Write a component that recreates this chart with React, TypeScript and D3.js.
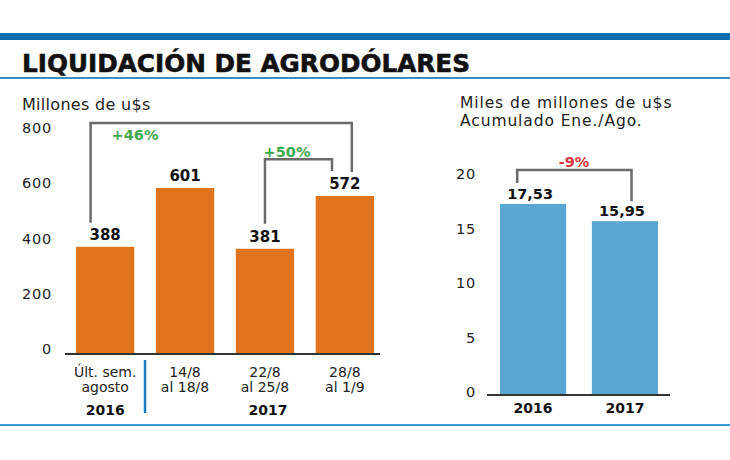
import React from 'react';
import * as d3 from 'd3';

// weekly settlements, millions of US$
const weekLabels = [['Últ. sem.', 'agosto'], ['14/8', 'al 18/8'], ['22/8', 'al 25/8'], ['28/8', 'al 1/9']];
const weekValues = [388, 601, 381, 572];
const weekTicks = [0, 200, 400, 600, 800];

// accumulated Jan/Aug, thousands of millions of US$
const yearLabels = ['2016', '2017'];
const yearValues = [17.53, 15.95];
const yearTicks = [0, 5, 10, 15, 20];

const ORANGE = '#e0731d';
const BLUE = '#5ba7d4';
const GRAY = '#6b6b6b';
const FONT = '"DejaVu Sans", sans-serif';

const fmt = (v: number) => v.toFixed(2).replace('.', ',');

export default function App() {
  const xw = d3.scaleBand<number>().domain(d3.range(weekValues.length)).range([76, 374]).paddingInner(0.27);
  const yw = d3.scaleLinear().domain([0, 800]).range([354, 133]);
  const xy = d3.scaleBand<number>().domain(d3.range(yearValues.length)).range([500, 658]).paddingInner(0.28);
  const yy = d3.scaleLinear().domain([0, 20]).range([395, 177]);
  const bw = xw.bandwidth();
  const by = xy.bandwidth();

  // bracket geometry
  const b46 = { x1: xw(0)! + bw * 0.25, x2: xw(3)! + bw * 0.62, top: yw(800) - 10, y1: yw(weekValues[0]) - 24, y2: yw(weekValues[3]) - 24 };
  const b50 = { x1: xw(2)! + bw * 0.5, x2: xw(3)! + bw * 0.28, top: yw(600) - 29, y1: yw(weekValues[2]) - 25, y2: yw(weekValues[3]) - 25 };
  const b9 = { x1: xy(0)! + by * 0.26, x2: xy(1)! + by * 0.6, top: yy(20) - 7, y1: yy(20) + 6, y2: yy(yearValues[1]) - 20 };
  const bracket = (b: typeof b46) => `M${b.x1},${b.y1}V${b.top}H${b.x2}V${b.y2}`;

  return (
    <svg width={730} height={460} style={{ position: 'absolute', left: 0, top: 0, background: '#fff' }} fontFamily={FONT}>
      <rect x={0} y={33} width={730} height={7} fill="#0c6fae" />
      <text x={22} y={72} fontSize={25} fontWeight={900} fill="#111" stroke="#111" strokeWidth={0.6}
        textLength={448} lengthAdjust="spacingAndGlyphs">
        LIQUIDACIÓN DE AGRODÓLARES
      </text>
      <rect x={0} y={77} width={730} height={2} fill="#3b8ec4" />

      {/* left panel */}
      <text x={22} y={110} fontSize={16} fill="#222" letterSpacing={0.3}>Millones de u$s</text>
      {weekTicks.map(t => (
        <text key={t} x={52} y={yw(t)} fontSize={14.5} textAnchor="end" fill="#222" letterSpacing={0.8}>{t}</text>
      ))}
      {weekValues.map((v, i) => (
        <g key={i}>
          <rect x={xw(i)} y={yw(v)} width={bw} height={yw(0) - yw(v)} fill={ORANGE} />
          <text x={xw(i)! + bw / 2} y={yw(v) - 7} fontSize={15} fontWeight={700} textAnchor="middle" fill="#111">{v}</text>
          <text x={xw(i)! + bw / 2} y={377} fontSize={14} textAnchor="middle" fill="#222">{weekLabels[i][0]}</text>
          <text x={xw(i)! + bw / 2} y={392} fontSize={14} textAnchor="middle" fill="#222">{weekLabels[i][1]}</text>
        </g>
      ))}
      <line x1={65} x2={380} y1={yw(0)} y2={yw(0)} stroke="#333" strokeWidth={2} />
      <line x1={145} x2={145} y1={360} y2={413} stroke="#1a7bbf" strokeWidth={2.5} />
      <text x={xw(0)! + bw / 2} y={415} fontSize={14} fontWeight={700} textAnchor="middle" fill="#111">2016</text>
      <text x={268} y={415} fontSize={14} fontWeight={700} textAnchor="middle" fill="#111">2017</text>

      <path d={bracket(b46)} fill="none" stroke={GRAY} strokeWidth={2.5} />
      <path d={bracket(b50)} fill="none" stroke={GRAY} strokeWidth={2.5} />
      <text x={135} y={140} fontSize={14.5} fontWeight={700} textAnchor="middle" fill="#3fa74c">+46%</text>
      <text x={287} y={157} fontSize={14.5} fontWeight={700} textAnchor="middle" fill="#3fa74c">+50%</text>

      {/* right panel */}
      <text x={460} y={108} fontSize={15.5} fill="#222" letterSpacing={0.9}>Miles de millones de u$s</text>
      <text x={460} y={126} fontSize={15.5} fill="#222" letterSpacing={0.9}>Acumulado Ene./Ago.</text>
      {yearTicks.map(t => (
        <text key={t} x={476} y={yy(t) + 2} fontSize={14.5} textAnchor="end" fill="#222" letterSpacing={0.8}>{t}</text>
      ))}
      {yearValues.map((v, i) => (
        <g key={i}>
          <rect x={xy(i)} y={yy(v)} width={by} height={yy(0) - yy(v)} fill={BLUE} />
          <text x={xy(i)! + by / 2 - 3} y={yy(v) - 5} fontSize={14.5} fontWeight={700} textAnchor="middle" fill="#111">{fmt(v)}</text>
          <text x={xy(i)! + by / 2} y={413} fontSize={14} fontWeight={700} textAnchor="middle" fill="#111">{yearLabels[i]}</text>
        </g>
      ))}
      <line x1={487} x2={670} y1={yy(0)} y2={yy(0)} stroke="#333" strokeWidth={2} />
      <path d={bracket(b9)} fill="none" stroke={GRAY} strokeWidth={2.5} />
      <text x={574} y={167} fontSize={14.5} fontWeight={700} textAnchor="middle" fill="#d9363e">-9%</text>

      <rect x={0} y={424} width={730} height={2} fill="#3a9ad6" />
    </svg>
  );
}
